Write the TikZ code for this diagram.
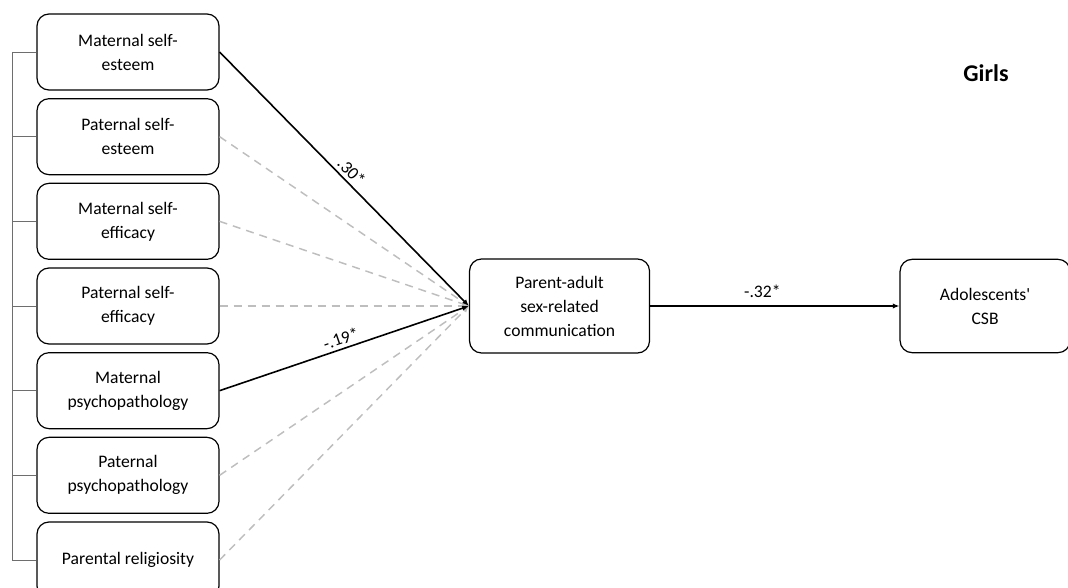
\documentclass[tikz,border=0pt]{standalone}
\usepackage{fontspec}
\setmainfont{Carlito}
\usepackage{tikz}
\usetikzlibrary{positioning}
\usetikzlibrary{arrows.meta}
\definecolor{dashgray}{RGB}{190,190,190}
\definecolor{brkgray}{RGB}{110,110,110}
\begin{document}
\begin{tikzpicture}[
                x=0.75pt, y=-0.75pt,
                box/.style = {
                    draw,
                    rounded corners = 9pt,
                    line width = 0.9pt,
                    align = center,
                    font = \fontsize{13.2}{18}\selectfont,
                    minimum width = #1,
                    minimum height = 57pt,
                    inner sep = 2pt
                },
                box/.default = 136.5pt,
                sig/.style = {line width = 1.2pt, -{Latex[length=5pt,width=4pt]}},
                nonsig/.style = {line width = 1.1pt, dashgray, dash pattern=on 6pt off 4.5pt, -{Latex[length=5pt,width=4pt]}},
                coef/.style = {font = \fontsize{13.2}{15}\selectfont, inner sep = 2.5pt},
                node distance = {5.6pt}
            ]
            \useasboundingbox (0,0) rectangle (1068,588);
            % predictors
            \node[box] (b1) at (128,52) {Maternal self-\\esteem};
            \node[box, below=of b1] (b2) {Paternal self-\\esteem};
            \node[box, below=of b2] (b3) {Maternal self-\\efficacy};
            \node[box, below=of b3] (b4) {Paternal self-\\efficacy};
            \node[box, below=of b4] (b5) {Maternal\\psychopathology};
            \node[box, below=of b5] (b6) {Paternal\\psychopathology};
            \node[box, below=of b6] (b7) {Parental religiosity};
            %
            \node[box=135pt, minimum height=70.5pt] (comm) [right=187pt of b4] {Parent-adult\\sex-related\\communication};
            \node[box=127.5pt, minimum height=70pt] (csb) [right=187pt of comm] {Adolescents\textquotesingle\\CSB};
            %
            \node[font=\fontsize{18}{20}\selectfont\bfseries] (girls) at (986,73) {Girls};
            %
            % bracket
            \coordinate (brk) at (12,0);
            \foreach \i in {1,...,7}
                \draw[brkgray, line width=0.7pt] (b\i.west) -- (b\i.west -| brk);
            \draw[brkgray, line width=0.7pt] (b1.west -| brk) -- (b7.west -| brk);
            %
            % paths
            \foreach \i in {2,3,4,6,7}
                \draw[nonsig] (b\i.east) -- (comm.west);
            \draw[sig] (b1.east) -- node[coef, sloped, above]{.30*} (comm.west);
            \draw[sig] (b5.east) -- node[coef, sloped, above]{-.19*} (comm.west);
            \draw[sig] (comm) -- node[coef, above=3pt, pos=0.45]{-.32*} (csb);
            %
        \end{tikzpicture}
\end{document}
